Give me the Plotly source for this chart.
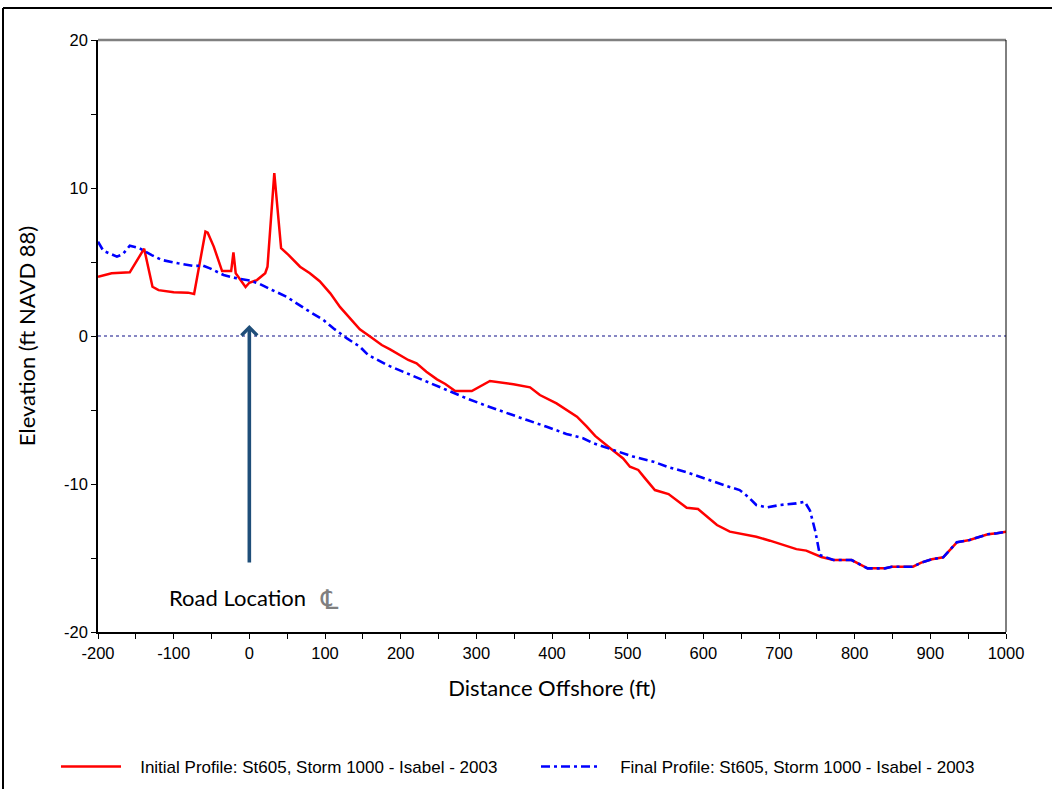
import plotly.graph_objects as go

# Initial profile (distance offshore, elevation)
init_x = [-200, -182, -158, -139, -128, -120, -100, -81, -73, -58, -55, -47, -36, -24, -21, -18,
          -5, 0, 10, 21, 24, 33, 42, 52, 67, 80, 93, 107, 120, 133, 146, 160, 175, 186, 199,
          210, 221, 234, 248, 259, 272, 294, 318, 331, 349, 371, 384, 406, 419, 433, 446, 457,
          477, 494, 503, 514, 523, 536, 554, 565, 578, 593, 602, 618, 635, 653, 670, 688, 706,
          723, 736, 756, 772, 796, 817, 840, 849, 877, 888, 902, 917, 935, 952, 965, 976, 988, 1000]
init_y = [4.0, 4.24, 4.3, 5.9, 3.33, 3.1, 2.95, 2.93, 2.84, 7.05, 6.98, 6.04, 4.39, 4.39, 5.65, 4.24,
          3.31, 3.6, 3.78, 4.24, 4.68, 11.0, 5.93, 5.47, 4.68, 4.24, 3.7, 2.88, 1.95, 1.2, 0.45, -0.05,
          -0.61, -0.9, -1.28, -1.62, -1.85, -2.41, -2.93, -3.24, -3.72, -3.72, -3.04, -3.13, -3.26,
          -3.47, -3.99, -4.55, -5.0, -5.45, -6.13, -6.75, -7.59, -8.27, -8.83, -9.05, -9.62, -10.41,
          -10.68, -11.08, -11.6, -11.69, -12.09, -12.77, -13.22, -13.38, -13.56, -13.83, -14.15,
          -14.4, -14.5, -14.93, -15.14, -15.14, -15.7, -15.7, -15.59, -15.59, -15.31, -15.09, -14.95,
          -13.94, -13.78, -13.6, -13.4, -13.33, -13.22]

# Final profile (distance offshore, elevation)
final_x = [-200, -193, -175, -167, -158, -145, -129, -116, -94, -74, -61, -52, -34, -17, 1, 14, 30,
           49, 76, 98, 111, 120, 129, 146, 157, 182, 208, 234, 261, 287, 314, 340, 367, 393, 419,
           441, 455, 481, 507, 534, 552, 578, 604, 631, 648, 659, 670, 684, 701, 723, 734, 741,
           748, 754, 772, 796, 817, 840, 849, 877, 888, 902, 917, 935, 952, 965, 976, 988, 1000]
final_y = [6.37, 5.76, 5.36, 5.54, 6.1, 5.93, 5.47, 5.14, 4.91, 4.73, 4.75, 4.57, 4.12, 3.9, 3.74,
           3.51, 3.11, 2.66, 1.76, 1.08, 0.52, 0.18, -0.16, -0.72, -1.28, -1.96, -2.52, -3.08, -3.65,
           -4.21, -4.73, -5.22, -5.68, -6.13, -6.62, -6.91, -7.25, -7.7, -8.15, -8.49, -8.83, -9.21,
           -9.68, -10.14, -10.41, -10.86, -11.42, -11.58, -11.42, -11.31, -11.2, -11.8, -13.2, -14.8,
           -15.14, -15.14, -15.7, -15.7, -15.59, -15.59, -15.31, -15.09, -14.95, -13.94, -13.78,
           -13.6, -13.4, -13.33, -13.22]

x_ticks = [-200, -100, 0, 100, 200, 300, 400, 500, 600, 700, 800, 900, 1000]
x_tick_text = ["-200", "-100", "0", "100", "200", "300", "400", "500", "600", "700", "800", "900", "1000"]
y_ticks = [-20, -10, 0, 10, 20]
y_tick_text = ["-20", "-10", "0", "10", "20"]

road_x = 0
arrow_y = [0.74, -15.4]

PAD = "\u00a0\u00a0\u00a0"  # spacing between legend sample and label

fig = go.Figure()

fig.add_trace(go.Scatter(
    x=init_x, y=init_y, mode="lines",
    name=PAD + "Initial Profile: St605, Storm 1000 - Isabel - 2003",
    line=dict(color="#FF0000", width=2.5),
))
fig.add_trace(go.Scatter(
    x=final_x, y=final_y, mode="lines",
    name=PAD + "Final Profile: St605, Storm 1000 - Isabel - 2003",
    line=dict(color="#0000FF", width=2.6, dash="9px,4px,3px,4px"),
))

# zero elevation reference
fig.add_shape(type="line", xref="x", yref="y", x0=-200, x1=1000, y0=0, y1=0,
              line=dict(color="#5F5FB0", width=1.5, dash="dot"), layer="below")

# plot frame: gray top, black right
fig.add_shape(type="line", xref="paper", yref="paper", x0=0, x1=1, y0=1, y1=1,
              line=dict(color="#808080", width=2.5))
fig.add_shape(type="line", xref="paper", yref="paper", x0=1, x1=1, y0=0, y1=1,
              line=dict(color="#000000", width=1))

# outer border of the figure
fig.add_shape(type="line", xref="paper", yref="paper",
              x0=(3 - 98) / 908, x1=(3 - 98) / 908, y0=(632 - 800) / 592, y1=(632 - 8) / 592,
              line=dict(color="#000000", width=2))
fig.add_shape(type="line", xref="paper", yref="paper",
              x0=(3 - 98) / 908, x1=(1060 - 98) / 908, y0=(632 - 8) / 592, y1=(632 - 8) / 592,
              line=dict(color="#000000", width=2))

# road location arrow
fig.add_annotation(x=road_x, y=arrow_y[0], ax=road_x, ay=arrow_y[1], xref="x", yref="y",
                   axref="x", ayref="y", text="", showarrow=True,
                   arrowhead=4, arrowsize=0.85, arrowwidth=3.6, arrowcolor="#1F4E79")
fig.add_annotation(x=-15.6, y=-17.64, xref="x", yref="y", text="Road Location", showarrow=False,
                   font=dict(family="Lato", size=22, color="#000000"))
# centreline symbol
fig.add_annotation(x=106, y=-17.8, xref="x", yref="y", text="\u2104", showarrow=False,
                   font=dict(family="DejaVu Sans", size=27, color="#7F7F7F"))

fig.update_layout(
    width=1052, height=789,
    margin=dict(l=98, r=46, t=40, b=157, autoexpand=False),
    paper_bgcolor="white", plot_bgcolor="white",
    showlegend=True,
    legend=dict(orientation="h", x=(56 - 98) / 908, y=(632 - 767) / 592, yanchor="middle",
                xanchor="left", itemwidth=60, entrywidth=405, entrywidthmode="pixels",
                font=dict(family="Liberation Sans", size=17, color="#000")),
    xaxis=dict(range=[-200, 1000], tickvals=x_ticks, ticktext=x_tick_text,
               showgrid=False, zeroline=False,
               showline=True, linecolor="#000", linewidth=1.5,
               ticks="outside", ticklen=5, tickcolor="#000",
               minor=dict(dtick=50, tick0=-200, ticks="outside", ticklen=5, tickcolor="#000"),
               tickfont=dict(family="Liberation Sans", size=16.5, color="#000"),
               title=dict(text="Distance Offshore (ft)", standoff=20,
                          font=dict(family="Lato", size=22, color="#000"))),
    yaxis=dict(range=[-20, 20], tickvals=y_ticks, ticktext=y_tick_text,
               showgrid=False, zeroline=False,
               showline=True, linecolor="#000", linewidth=1.5,
               ticks="outside", ticklen=5, tickcolor="#000",
               minor=dict(dtick=5, tick0=-20, ticks="outside", ticklen=5, tickcolor="#000"),
               tickfont=dict(family="Liberation Sans", size=16.5, color="#000"),
               title=dict(text="Elevation (ft NAVD 88)", standoff=22,
                          font=dict(family="Lato", size=22, color="#000"))),
)

fig.write_html("out.html")
